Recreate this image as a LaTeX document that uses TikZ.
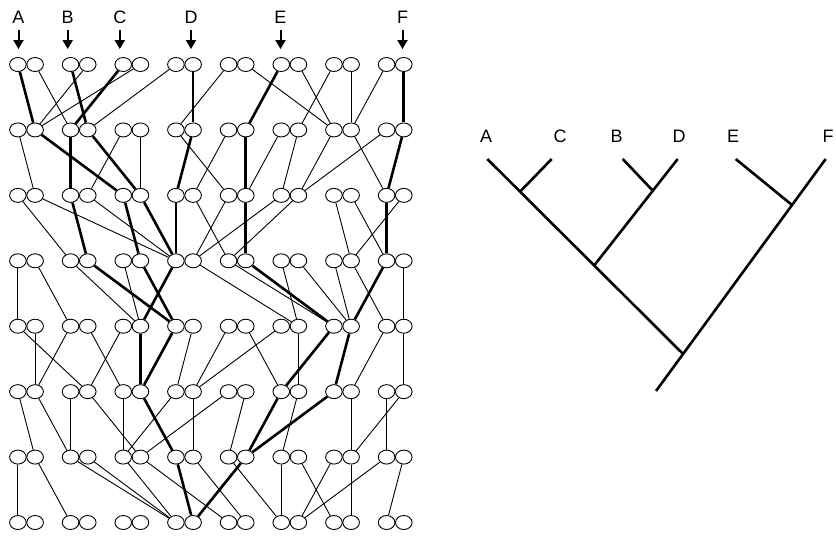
\documentclass[tikz,border=0pt]{standalone}
\usepackage{fontspec}
\setmainfont{Liberation Sans}
\usetikzlibrary{shapes.geometric,arrows.meta}
\begin{document}
\begin{tikzpicture}[x=1pt,y=-1pt,
  gene/.style={ellipse,draw,line width=0.9pt,minimum width=16.6pt,minimum height=14pt,inner sep=0pt},
  tl/.style={line width=0.9pt},
  tk/.style={line width=2.6pt},
  lab/.style={font=\fontsize{18}{18}\selectfont,inner sep=0pt},
  arr/.style={line width=2pt,-{Triangle[length=9pt,width=10pt]},shorten <=6.5pt,shorten >=8pt},
  treeline/.style={line width=2.6pt}]
\useasboundingbox (0,0) rectangle (836,536);
% gene copies
\foreach \ro in {1,...,8}{
  \foreach \co in {1,...,8}{
    \pgfmathsetmacro{\cx}{26.5+52.67*(\co-1)}
    \pgfmathsetmacro{\cy}{64.5+65.43*(\ro-1)}
    \node[gene] (r\ro p\co L) at (\cx-8.6,\cy) {};
    \node[gene] (r\ro p\co R) at (\cx+8.6,\cy) {};
  }
}
% labels and arrows
\node[lab] (lA) at (18.5,17.3) {A};
\node[lab] (lB) at (67.7,17.3) {B};
\node[lab] (lC) at (119.8,17.3) {C};
\node[lab] (lD) at (191,17.3) {D};
\node[lab] (lE) at (280.5,17.3) {E};
\node[lab] (lF) at (402.5,17.3) {F};
\draw[arr] (lA) -- (lA |- r1p1L.north);
\draw[arr] (lB) -- (lB |- r1p2L.north);
\draw[arr] (lC) -- (lC |- r1p3L.north);
\draw[arr] (lD) -- (lD |- r1p4R.north);
\draw[arr] (lE) -- (lE |- r1p6L.north);
\draw[arr] (lF) -- (lF |- r1p8R.north);
% thin connectors
\foreach \a/\b in {
 1p1R/2p2L, 1p2R/2p1R, 1p3R/2p1R, 1p4L/2p2R, 1p5L/2p4L, 1p5R/2p7L, 1p6R/2p7L, 1p7L/2p6R, 1p7R/2p7R, 1p8L/2p7R,
 2p1L/3p1R, 2p3L/3p2R, 2p3R/3p3R, 2p4L/3p5L, 2p5L/3p4R, 2p6L/3p5R, 2p6R/3p6L, 2p7L/3p6R, 2p7R/3p8L, 2p8L/3p6R,
 3p1L/4p2L, 3p1R/4p4L, 3p2R/4p4L, 3p4R/4p5L, 3p5L/4p4R, 3p6L/4p4R, 3p6R/4p5L, 3p7L/4p7R, 3p7R/4p8L, 3p8R/4p7R,
 4p1L/5p1L, 4p1R/5p2L, 4p2L/5p3R, 4p3L/5p3R, 4p4R/5p6R, 4p5L/5p7L, 4p6L/5p6R, 4p6R/5p7R, 4p7L/5p7R, 4p7R/5p8L, 4p8R/5p8R,
 5p1L/6p2R, 5p1R/6p1R, 5p2L/6p1R, 5p2R/6p3L, 5p3L/6p2R, 5p4R/6p4L, 5p5L/6p4R, 5p5R/6p6L, 5p6L/6p4R, 5p6R/6p6R, 5p8L/6p7R, 5p8R/6p8R,
 6p1L/7p1R, 6p1R/7p2L, 6p2L/7p2L, 6p2R/7p3R, 6p3L/7p3L, 6p4L/7p3L, 6p4R/7p4R, 6p5L/7p3R, 6p5R/7p5L, 6p6R/7p6L, 6p7R/7p7R, 6p8L/7p8L, 6p8R/7p7R,
 7p1L/8p1L, 7p1R/8p2L, 7p2L/8p4L, 7p2R/8p4L, 7p3L/8p4L, 7p3R/8p5L, 7p4R/8p5R, 7p5L/8p6L, 7p6L/8p6L, 7p6R/8p7L, 7p7L/8p6R, 7p7R/8p7R, 7p8L/8p6R, 7p8R/8p8L}
 {\draw[tl] (r\a) -- (r\b);}
% thick lineage connectors
\foreach \a/\b in {
 1p1L/2p1R, 1p2L/2p2R, 1p3L/2p2L, 1p4R/2p4R, 1p6L/2p5R, 1p8R/2p8R,
 2p1R/3p3L, 2p2L/3p2L, 2p2R/3p3R, 2p4R/3p4L, 2p5R/3p5R, 2p8R/3p8L,
 3p2L/4p2R, 3p3L/4p3R, 3p3R/4p4L, 3p4L/4p4L, 3p5R/4p5R, 3p8L/4p8L,
 4p2R/5p4L, 4p3R/5p4L, 4p4L/5p3R, 4p5R/5p7L, 4p8L/5p7R,
 5p3R/6p3R, 5p4L/6p3R, 5p7L/6p6L, 5p7R/6p7L,
 6p3R/7p4L, 6p6L/7p5R, 6p7L/7p5R,
 7p4L/8p4R, 7p5R/8p4R}
 {\draw[tk] (r\a) -- (r\b);}
% gene tree
\coordinate (tA) at (487.3,159);
\coordinate (tC) at (551.7,159);
\coordinate (tB) at (622.7,159);
\coordinate (tD) at (677.7,159);
\coordinate (tE) at (735.7,159);
\coordinate (tF) at (825.7,159);
\coordinate (jAC) at (520,191.7);
\coordinate (jBD) at (652.8,190.7);
\coordinate (jABCD) at (594,265.7);
\coordinate (jEF) at (792,205);
\coordinate (jR) at (683.1,354);
\coordinate (tRoot) at (656,391);
\draw[treeline] (tA) -- (jR);
\draw[treeline] (tF) -- (tRoot);
\draw[treeline] (tC) -- (jAC);
\draw[treeline] (tD) -- (jABCD);
\draw[treeline] (tB) -- (jBD);
\draw[treeline] (tE) -- (jEF);
\node[lab] (gA) at (486,136.7) {A};
\node[lab] (gC) at (560,136.7) {C};
\node[lab] (gB) at (616.7,136.7) {B};
\node[lab] (gD) at (679,136.7) {D};
\node[lab] (gE) at (733,136.7) {E};
\node[lab] (gF) at (828,136.7) {F};
\end{tikzpicture}
\end{document}
